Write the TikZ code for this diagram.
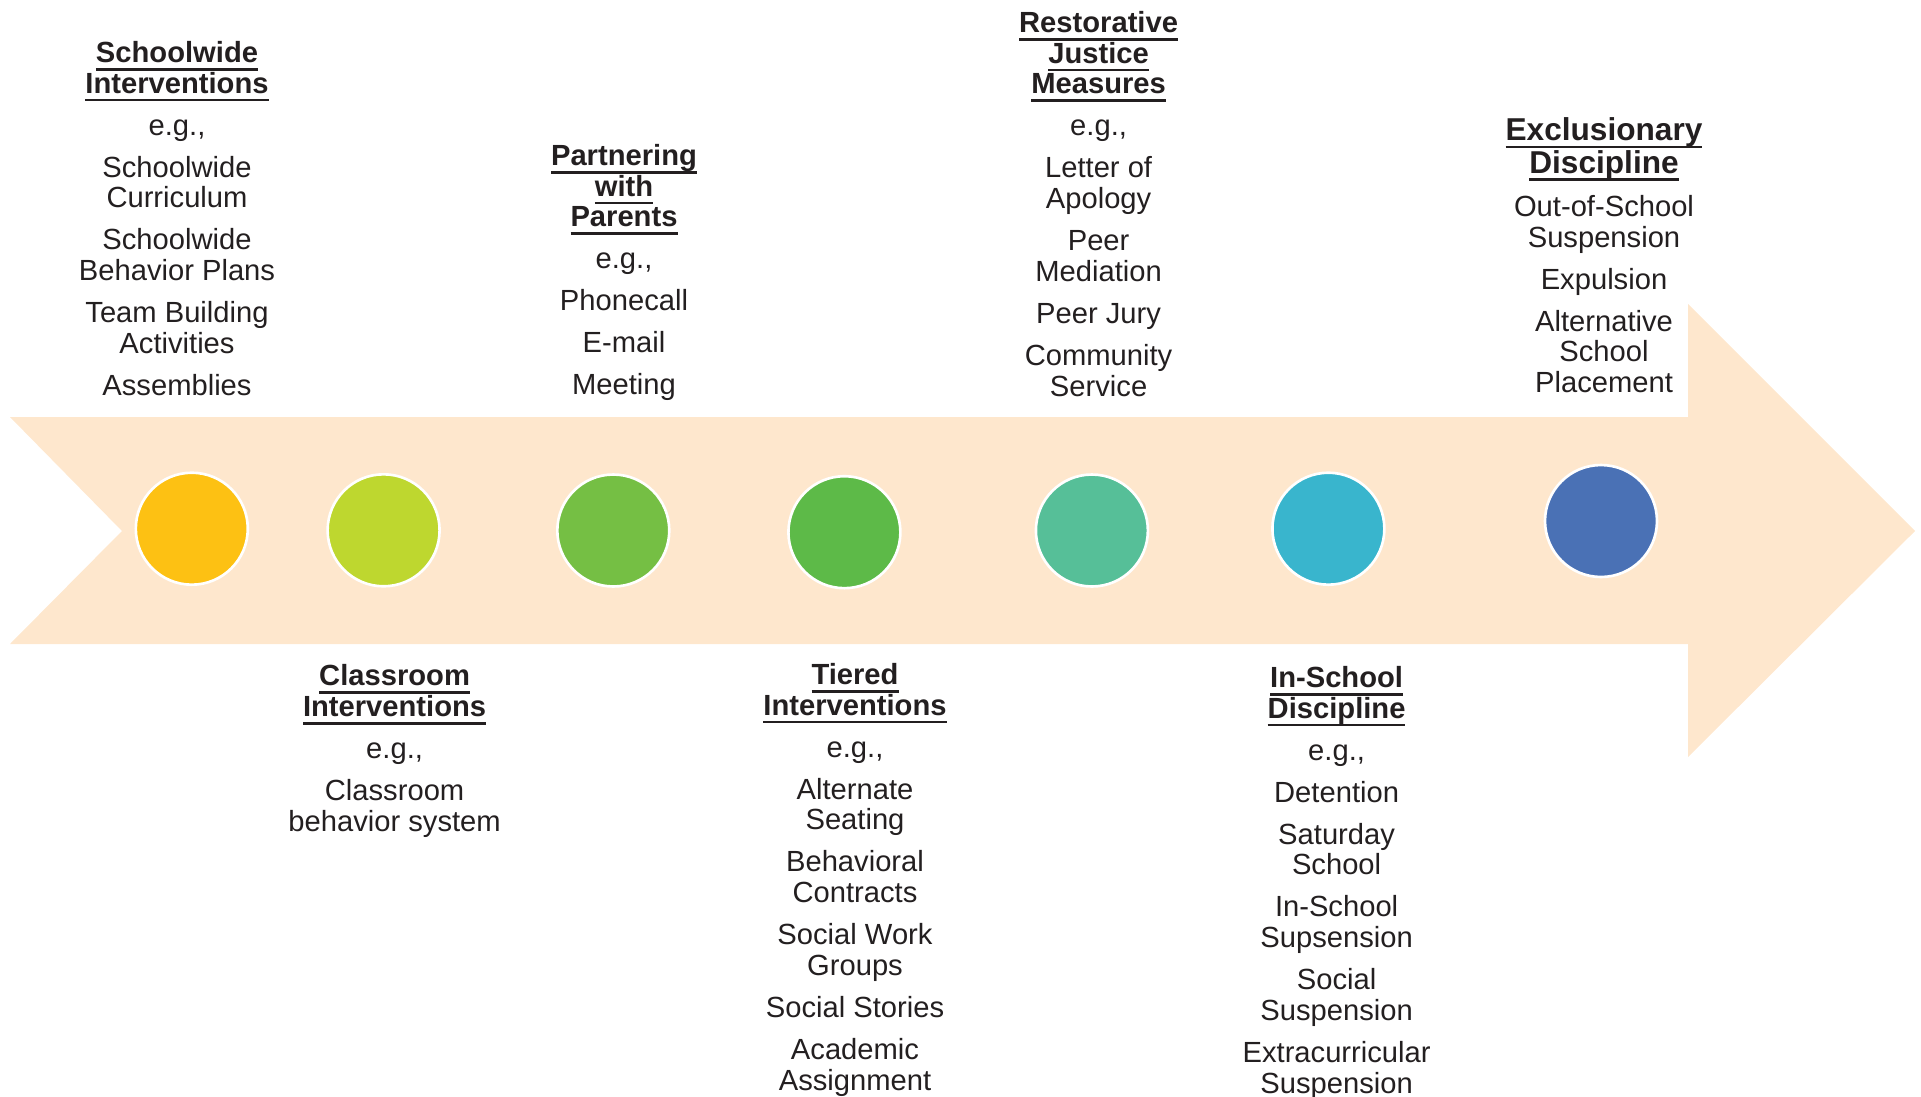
\documentclass[tikz,border=0pt]{standalone}
\usepackage{fontspec}
\setmainfont{Liberation Sans}
\usepackage{tikz}
\definecolor{bandfill}{HTML}{FEE7CD}
\definecolor{inkgray}{HTML}{231F20}
\definecolor{stepA}{HTML}{FDC113}
\definecolor{stepB}{HTML}{BED72F}
\definecolor{stepC}{HTML}{75BF44}
\definecolor{stepD}{HTML}{5DBA48}
\definecolor{stepE}{HTML}{56BF98}
\definecolor{stepF}{HTML}{39B5CD}
\definecolor{stepG}{HTML}{4A71B5}
\newsavebox{\headbox}
\newcommand{\ulhead}[1]{\sbox{\headbox}{\bfseries #1}\leavevmode\rlap{\rule[-4.6pt]{\wd\headbox}{1.6pt}}\usebox{\headbox}}

\begin{document}
\begin{tikzpicture}[x=0.02cm,y=-0.02cm,font=\fontsize{16.6}{17.5}\selectfont,
	dot/.style={circle,draw=white,line width=1.5pt,minimum size=2.24cm,inner sep=0pt},
	block/.style={align=center,anchor=north,inner sep=0pt,text=inkgray}]
	\useasboundingbox (0,0) rectangle (1921,1096);

	\fill[bandfill] (10,417) -- (1688,417) -- (1688,304) -- (1915,531) -- (1688,757) -- (1688,644) -- (10,644) -- (122,531) -- cycle;

	\node (dotA) at (191.8,528.7) [dot,fill=stepA] {};
	\node (dotB) at (383.6,530.3) [dot,fill=stepB] {};
	\node (dotC) at (613.3,530.5) [dot,fill=stepC] {};
	\node (dotD) at (844.4,532.2) [dot,fill=stepD] {};
	\node (dotE) at (1091.9,530.5) [dot,fill=stepE] {};
	\node (dotF) at (1328.4,528.7) [dot,fill=stepF] {};
	\node (dotG) at (1601,521) [dot,fill=stepG] {};

	\node (schoolwide) at (177,41) [block] {\ulhead{Schoolwide}\\\ulhead{Interventions}\\[6.4pt]e.g.,\\[6.4pt]Schoolwide\\Curriculum\\[6.4pt]Schoolwide\\Behavior Plans\\[6.4pt]Team Building\\Activities\\[6.4pt]Assemblies};
	\node (classroom) at (394.6,664.5) [block] {\ulhead{Classroom}\\\ulhead{Interventions}\\[6.4pt]e.g.,\\[6.4pt]Classroom\\behavior system};
	\node (partnering) at (624,144) [block] {\ulhead{Partnering}\\\ulhead{with}\\\ulhead{Parents}\\[6.4pt]e.g.,\\[6.4pt]Phonecall\\[6.4pt]E-mail\\[6.4pt]Meeting};
	\node (tiered) at (855,663) [block] {\ulhead{Tiered}\\\ulhead{Interventions}\\[6.4pt]e.g.,\\[6.4pt]Alternate\\Seating\\[6.4pt]Behavioral\\Contracts\\[6.4pt]Social Work\\Groups\\[6.4pt]Social Stories\\[6.4pt]Academic\\Assignment};
	\node (restorative) at (1098.6,11) [block] {\ulhead{Restorative}\\\ulhead{Justice}\\\ulhead{Measures}\\[6.4pt]e.g.,\\[6.4pt]Letter of\\Apology\\[6.4pt]Peer\\Mediation\\[6.4pt]Peer Jury\\[6.4pt]Community\\Service};
	\node (inschool) at (1336.6,666) [block] {\ulhead{In-School}\\\ulhead{Discipline}\\[6.4pt]e.g.,\\[6.4pt]Detention\\[6.4pt]Saturday\\School\\[6.4pt]In-School\\Supsension\\[6.4pt]Social\\Suspension\\[6.4pt]Extracurricular\\Suspension};
	\node (exclusionary) at (1604,117) [block] {\ulhead{\fontsize{18}{19.5}\selectfont Exclusionary}\\\ulhead{\fontsize{18}{19.5}\selectfont Discipline}\\[7.2pt]Out-of-School\\Suspension\\[6.4pt]Expulsion\\[6.4pt]Alternative\\School\\Placement};
\end{tikzpicture}
\end{document}
